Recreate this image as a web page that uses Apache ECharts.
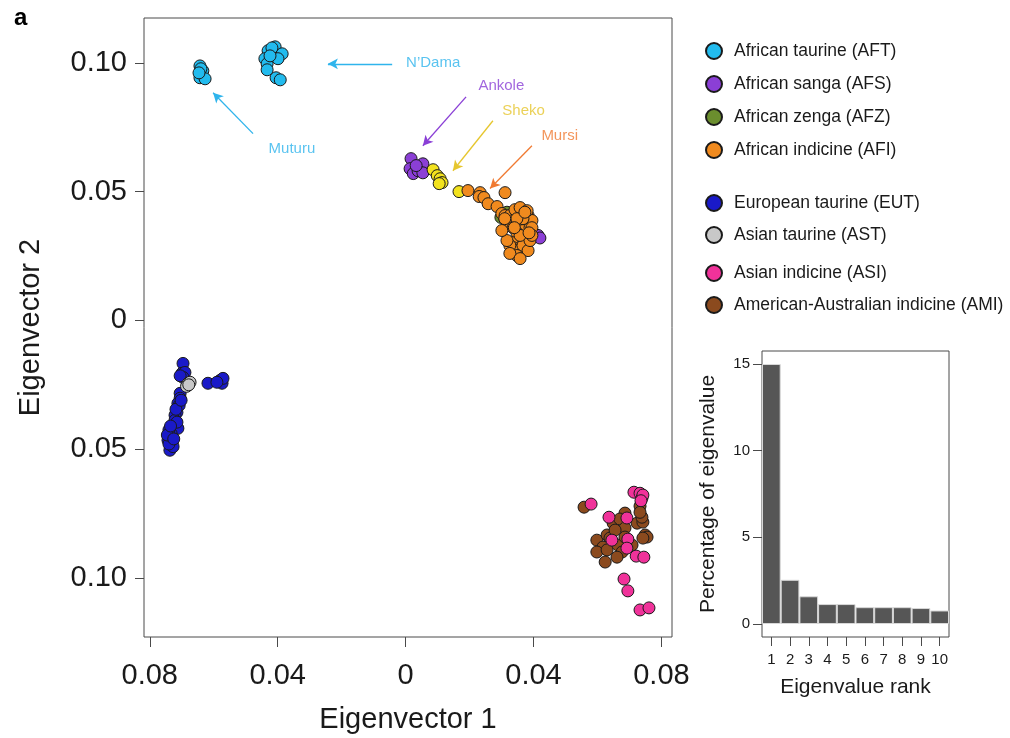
<!DOCTYPE html>
<html>
<head>
<meta charset="utf-8">
<script src="https://cdn.jsdelivr.net/npm/echarts@6/dist/echarts.min.js"></script>
<style>
  html, body { margin: 0; padding: 0; background: #fff; }
  #chart { width: 1010px; height: 738px; }
</style>
</head>
<body>
<div id="chart"></div>
<script>
// Principal component scores per cattle group: [eigenvector 1, eigenvector 2]
const africanTaurine = [
  [-0.0643, 0.0988], [-0.0634, 0.0969], [-0.0643, 0.0942], [-0.0627, 0.0938],
  [-0.0640, 0.0977], [-0.0646, 0.0961],
  [-0.0430, 0.1047], [-0.0408, 0.1062], [-0.0386, 0.1035], [-0.0440, 0.1016],
  [-0.0433, 0.0996], [-0.0399, 0.1016], [-0.0433, 0.0973], [-0.0405, 0.0942],
  [-0.0392, 0.0934], [-0.0418, 0.1058], [-0.0424, 0.1027]
];
const africanSanga = [
  [0.0017, 0.0628], [0.0054, 0.0608], [0.0014, 0.0589], [0.0024, 0.0570],
  [0.0039, 0.0581], [0.0054, 0.0573], [0.0033, 0.0601],
  [0.0414, 0.0330], [0.0420, 0.0320]
];
const shekoCattle = [
  [0.0086, 0.0585], [0.0099, 0.0562], [0.0108, 0.0550], [0.0114, 0.0535],
  [0.0105, 0.0531], [0.0167, 0.0500]
];
const africanZenga = [
  [0.0305, 0.0415], [0.0298, 0.0400], [0.0317, 0.0420], [0.0310, 0.0398]
];
const africanIndicine = [
  [0.0195, 0.0504], [0.0233, 0.0496], [0.0230, 0.0481], [0.0245, 0.0477],
  [0.0258, 0.0453], [0.0286, 0.0442], [0.0311, 0.0496],
  [0.0301, 0.0415], [0.0311, 0.0407], [0.0320, 0.0376], [0.0326, 0.0407],
  [0.0336, 0.0388], [0.0351, 0.0415], [0.0367, 0.0426], [0.0383, 0.0407],
  [0.0380, 0.0376], [0.0358, 0.0368], [0.0336, 0.0360], [0.0367, 0.0349],
  [0.0389, 0.0360], [0.0348, 0.0341], [0.0333, 0.0302], [0.0336, 0.0283],
  [0.0351, 0.0271], [0.0367, 0.0291], [0.0383, 0.0271], [0.0348, 0.0252],
  [0.0326, 0.0291], [0.0389, 0.0310], [0.0395, 0.0388], [0.0367, 0.0395],
  [0.0317, 0.0310], [0.0301, 0.0349], [0.0342, 0.0430], [0.0358, 0.0438],
  [0.0380, 0.0426], [0.0395, 0.0360], [0.0395, 0.0330], [0.0348, 0.0395],
  [0.0358, 0.0330], [0.0326, 0.0260], [0.0358, 0.0240], [0.0310, 0.0395],
  [0.0373, 0.0420], [0.0386, 0.0340], [0.0340, 0.0360]
];
const europeanTaurine = [
  [-0.0696, -0.0167], [-0.0699, -0.0205], [-0.0690, -0.0202], [-0.0696, -0.0221],
  [-0.0705, -0.0215], [-0.0618, -0.0244], [-0.0580, -0.0233], [-0.0574, -0.0244],
  [-0.0571, -0.0225], [-0.0590, -0.0240],
  [-0.0705, -0.0283], [-0.0705, -0.0302], [-0.0712, -0.0322], [-0.0715, -0.0357],
  [-0.0721, -0.0368], [-0.0721, -0.0388], [-0.0727, -0.0415], [-0.0730, -0.0434],
  [-0.0737, -0.0453], [-0.0743, -0.0465], [-0.0730, -0.0477], [-0.0737, -0.0504],
  [-0.0712, -0.0419], [-0.0708, -0.0330], [-0.0718, -0.0345], [-0.0733, -0.0440],
  [-0.0740, -0.0425], [-0.0727, -0.0490], [-0.0740, -0.0480], [-0.0745, -0.0445],
  [-0.0715, -0.0395], [-0.0702, -0.0310], [-0.0735, -0.0410], [-0.0725, -0.0460]
];
const asianTaurine = [
  [-0.0680, -0.0244], [-0.0674, -0.0240], [-0.0685, -0.0256], [-0.0678, -0.0250]
];
const americanAustralianIndicine = [
  [0.0558, -0.0725], [0.0686, -0.0748], [0.0649, -0.0787], [0.0670, -0.0771],
  [0.0724, -0.0787], [0.0742, -0.0783], [0.0749, -0.0833], [0.0755, -0.0841],
  [0.0742, -0.0845], [0.0686, -0.0806], [0.0598, -0.0853], [0.0630, -0.0833],
  [0.0639, -0.0845], [0.0617, -0.0880], [0.0598, -0.0899], [0.0630, -0.0891],
  [0.0664, -0.0872], [0.0677, -0.0899], [0.0661, -0.0919], [0.0624, -0.0938],
  [0.0686, -0.0841], [0.0733, -0.0721], [0.0739, -0.0764], [0.0708, -0.0872],
  [0.0655, -0.0814], [0.0733, -0.0745]
];
const asianIndicine = [
  [0.0580, -0.0713], [0.0714, -0.0667], [0.0733, -0.0671], [0.0739, -0.0690],
  [0.0742, -0.0678], [0.0636, -0.0764], [0.0692, -0.0767], [0.0645, -0.0853],
  [0.0695, -0.0849], [0.0692, -0.0884], [0.0721, -0.0915], [0.0745, -0.0919],
  [0.0683, -0.1004], [0.0695, -0.1050], [0.0733, -0.1124], [0.0761, -0.1116],
  [0.0736, -0.0700]
];

// Eigenvalue spectrum (inset)
const eigenRanks = ['1', '2', '3', '4', '5', '6', '7', '8', '9', '10'];
const eigenPercent = [15.0, 2.55, 1.6, 1.15, 1.15, 0.97, 0.97, 0.97, 0.92, 0.78];

// Tick values
const pcXTicks = [-0.08, -0.04, 0, 0.04, 0.08];
const pcYTicks = [-0.10, -0.05, 0, 0.05, 0.10];
const eigenYTicks = [0, 5, 10, 15];

// Breed call-outs: text anchor and arrow in score coordinates
const callouts = [
  { name: "N\u2019Dama", color: '#2FB4EC', at: [0.0000, 0.1000], from: [-0.0042, 0.0996], to: [-0.0243, 0.0996] },
  { name: 'Muturu', color: '#2FB4EC', at: [-0.0430, 0.0667], from: [-0.0477, 0.0725], to: [-0.0602, 0.0884] },
  { name: 'Ankole', color: '#8A3FD6', at: [0.0226, 0.0911], from: [0.0189, 0.0868], to: [0.0054, 0.0678] },
  { name: 'Sheko', color: '#E6C62E', at: [0.0301, 0.0814], from: [0.0273, 0.0775], to: [0.0148, 0.0581] },
  { name: 'Mursi', color: '#F07A32', at: [0.0423, 0.0717], from: [0.0395, 0.0678], to: [0.0264, 0.0512] }
];

const FONT = '"Liberation Sans", Arial, Helvetica, sans-serif';

function group(name, data, color) {
  return {
    name: name,
    type: 'scatter',
    xAxisIndex: 0,
    yAxisIndex: 0,
    data: data,
    symbol: 'circle',
    symbolSize: 12,
    itemStyle: { color: color, borderColor: '#1a1a1a', borderWidth: 1, opacity: 1 },
    emphasis: { disabled: true },
    silent: true
  };
}

const noMinus = v => (Math.abs(v) < 1e-9 ? '0' : Math.abs(v).toFixed(2));

const legendCommon = {
  orient: 'vertical',
  left: 700,
  icon: 'circle',
  itemWidth: 30,
  itemHeight: 16,
  itemGap: 15,
  selectedMode: false,
  textStyle: { fontFamily: FONT, fontSize: 17.5, color: '#1a1a1a' }
};

const option = {
  backgroundColor: '#ffffff',
  animation: false,
  textStyle: { fontFamily: FONT },
  graphic: [{
    type: 'text', left: 14, top: 6,
    style: { text: 'a', font: 'bold 24px ' + FONT, fill: '#000' }
  }],
  legend: [
    Object.assign({}, legendCommon, { top: 37, data: ['African taurine (AFT)', 'African sanga (AFS)', 'African zenga (AFZ)', 'African indicine (AFI)'] }),
    Object.assign({}, legendCommon, { top: 189, itemGap: 14, data: ['European taurine (EUT)', 'Asian taurine (AST)'] }),
    Object.assign({}, legendCommon, { top: 259, itemGap: 14, data: ['Asian indicine (ASI)', 'American-Australian indicine (AMI)'] })
  ],
  grid: [
    { left: 144, right: 338, top: 18, bottom: 101, outerBoundsMode: 'none', containLabel: false, show: true, borderColor: '#4a4a4a', borderWidth: 1, backgroundColor: 'transparent' },
    { left: 762, right: 61, top: 351, bottom: 101, outerBoundsMode: 'none', containLabel: false, show: true, borderColor: '#4a4a4a', borderWidth: 1, backgroundColor: 'transparent' }
  ],
  xAxis: [
    {
      type: 'value', gridIndex: 0, min: -0.0818, max: 0.0833,
      name: 'Eigenvector 1', nameLocation: 'middle', nameGap: 68,
      nameTextStyle: { fontFamily: FONT, fontSize: 29, color: '#1a1a1a' },
      axisLine: { show: false, onZero: false },
      splitLine: { show: false },
      axisTick: { show: true, length: 10, lineStyle: { color: '#4a4a4a' }, customValues: pcXTicks },
      axisLabel: { fontFamily: FONT, fontSize: 29, color: '#1a1a1a', margin: 24, customValues: pcXTicks, formatter: noMinus }
    },
    {
      type: 'category', gridIndex: 1, data: eigenRanks, boundaryGap: true,
      name: 'Eigenvalue rank', nameLocation: 'middle', nameGap: 40,
      nameTextStyle: { fontFamily: FONT, fontSize: 21, color: '#1a1a1a' },
      axisLine: { show: false, onZero: false },
      splitLine: { show: false },
      axisTick: { show: true, alignWithLabel: true, length: 9, lineStyle: { color: '#4a4a4a' } },
      axisLabel: { fontFamily: FONT, fontSize: 15, color: '#1a1a1a', margin: 15, interval: 0 }
    }
  ],
  yAxis: [
    {
      type: 'value', gridIndex: 0, min: -0.1229, max: 0.1174,
      name: 'Eigenvector 2', nameLocation: 'middle', nameGap: 99,
      nameTextStyle: { fontFamily: FONT, fontSize: 29, color: '#1a1a1a' },
      axisLine: { show: false, onZero: false },
      splitLine: { show: false },
      axisTick: { show: true, length: 9, lineStyle: { color: '#4a4a4a' }, customValues: pcYTicks },
      axisLabel: { fontFamily: FONT, fontSize: 29, color: '#1a1a1a', margin: 17, customValues: pcYTicks, formatter: noMinus }
    },
    {
      type: 'value', gridIndex: 1, min: -0.75, max: 15.75,
      name: 'Percentage of eigenvalue', nameLocation: 'middle', nameGap: 43,
      nameTextStyle: { fontFamily: FONT, fontSize: 21, color: '#1a1a1a' },
      axisLine: { show: false, onZero: false },
      splitLine: { show: false },
      axisTick: { show: true, length: 9, lineStyle: { color: '#4a4a4a' }, customValues: eigenYTicks },
      axisLabel: { fontFamily: FONT, fontSize: 15, color: '#1a1a1a', margin: 12, customValues: eigenYTicks }
    }
  ],
  series: [
    group('African taurine (AFT)', africanTaurine, '#22BBEE'),
    group('African sanga (AFS)', africanSanga, '#8B3FD6'),
    group('Sheko', shekoCattle, '#F2E21E'),
    group('African zenga (AFZ)', africanZenga, '#6B8E2E'),
    group('African indicine (AFI)', africanIndicine, '#F08A1E'),
    group('European taurine (EUT)', europeanTaurine, '#1A1AC8'),
    group('Asian taurine (AST)', asianTaurine, '#C8C8C8'),
    group('American-Australian indicine (AMI)', americanAustralianIndicine, '#8B4A1E'),
    group('Asian indicine (ASI)', asianIndicine, '#F0329A'),
    {
      name: 'callouts',
      type: 'scatter',
      xAxisIndex: 0, yAxisIndex: 0,
      symbolSize: 1,
      silent: true,
      itemStyle: { color: 'rgba(0,0,0,0)' },
      data: callouts.map(c => ({
        value: c.at,
        name: c.name,
        label: { show: true, position: 'right', distance: 0, formatter: '{b}', fontFamily: FONT, fontSize: 15, color: c.color }
      })),
      markLine: {
        silent: true,
        animation: false,
        symbol: ['none', 'arrow'],
        symbolSize: [8, 10],
        label: { show: false },
        emphasis: { disabled: true },
        data: callouts.map(c => [
          { coord: c.from, lineStyle: { color: c.color, width: 1.3, type: 'solid' } },
          { coord: c.to }
        ])
      }
    },
    {
      name: 'eigenvalues',
      type: 'bar',
      xAxisIndex: 1, yAxisIndex: 1,
      data: eigenPercent,
      barWidth: '100%',
      barCategoryGap: 0,
      silent: true,
      itemStyle: { color: '#565656', borderColor: '#d8d8d8', borderWidth: 1 }
    }
  ]
};

const chart = echarts.init(document.getElementById('chart'), null, { renderer: 'canvas' });
chart.setOption(option);
</script>
</body>
</html>
